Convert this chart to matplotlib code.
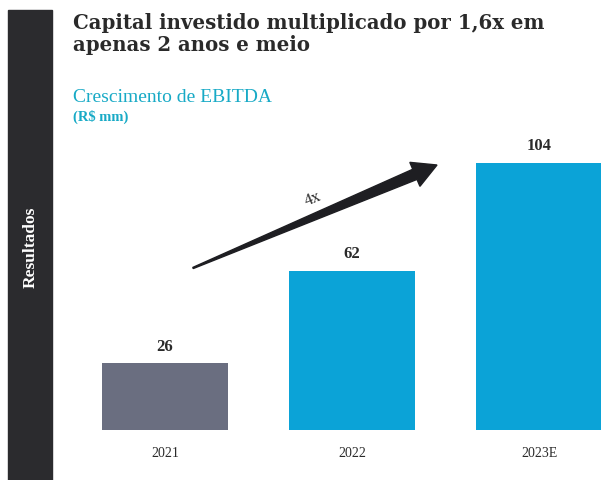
import matplotlib.pyplot as plt
from matplotlib.patches import Rectangle, Polygon
import numpy as np

# chart data
years = ['2021', '2022', '2023E']
ebitda = [26, 62, 104]
bar_colors = ['#6a6e80', '#0ba3d7', '#0ba3d7']

W, H = 601, 480
fig = plt.figure(figsize=(W / 100, H / 100), dpi=100)
serif = ['Liberation Serif', 'DejaVu Serif']


def fx(px):
    return px / W


def fy(py):
    return 1 - py / H


# dark side bar with the section name
fig.patches.append(Rectangle((fx(8), 0), fx(52) - fx(8), fy(10), transform=fig.transFigure,
                             color='#2b2b2e', zorder=0))
fig.text(fx(31), fy(247), 'Resultados', rotation=90, color='white', fontsize=12.5,
         fontweight='bold', family=serif, ha='center', va='center')

# titles
fig.text(fx(73), fy(34), 'Capital investido multiplicado por 1,6x em\napenas 2 anos e meio',
         fontsize=14.2, fontweight='bold', family=['DejaVu Serif'], color='#2a2a2a',
         ha='left', va='center', linespacing=1.1)
fig.text(fx(73), fy(97), 'Crescimento de EBITDA', fontsize=14, family=serif,
         color='#18aac6', ha='left', va='center')
fig.text(fx(73), fy(117), '(R$ mm)', fontsize=10.5, family=serif, fontweight='bold',
         color='#18aac6', ha='left', va='center')

# bar axes: bar centers at px 165, 352, 540; zero at px 430
ax = fig.add_axes([fx(52), fy(430), fx(601) - fx(52), fy(130) - fy(430)])
x = np.arange(len(years))
ax.bar(x, ebitda, width=0.67, color=bar_colors)
ax.set_xlim((52 - 165) / 187, (601 - 165) / 187)
ax.set_ylim(0, 300 / 2.57)
ax.axis('off')
ax.patch.set_alpha(0)

for xi, v in zip(x, ebitda):
    ax.annotate(str(v), (xi, v), xytext=(0, 6), textcoords='offset points',
                ha='center', va='bottom', fontsize=12, fontweight='bold',
                family=serif, color='#2a2a2a')
    ax.annotate(years[xi], (xi, 0), xytext=(0, -12.5), textcoords='offset points',
                ha='center', va='top', fontsize=10, family=serif, color='#2a2a2a')

# tapered growth arrow
tail = np.array([193.0, 268.0])
tip = np.array([437.0, 165.0])
d = tip - tail
L = np.hypot(*d)
u = d / L
n = np.array([-u[1], u[0]])
base = tail + u * (L - 24)
pts = [tail + n * 0.6, base + n * 5.5, base + n * 13, tip,
       base - n * 13, base - n * 5.5, tail - n * 0.6]
pts = [(fx(p[0]), fy(p[1])) for p in pts]
fig.patches.append(Polygon(pts, closed=True, transform=fig.transFigure,
                           color='#1e1e22', zorder=3))
ang = np.degrees(np.arctan2(-d[1], d[0]))
fig.text(fx(313), fy(199), '4x', rotation=ang, fontsize=12, family=serif,
         color='#2a2a2a', ha='center', va='center', rotation_mode='anchor')

plt.savefig('out.png', dpi=100)
